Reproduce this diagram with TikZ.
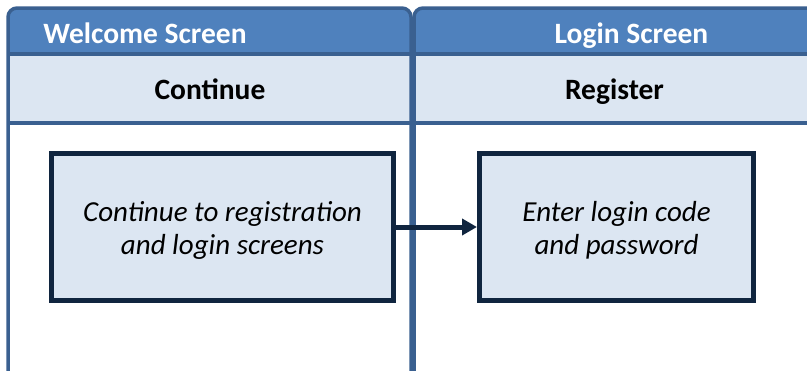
\documentclass[tikz,border=0pt]{standalone}
\usepackage{fontspec}
\setmainfont{Carlito}
\usetikzlibrary{arrows.meta}
\definecolor{hdrfill}{HTML}{4F81BD}
\definecolor{lanebd}{HTML}{3A6090}
\definecolor{subfill}{HTML}{DCE6F2}
\definecolor{navy}{HTML}{10253F}
\newcommand{\mytwolines}[2]{\raisebox{-3pt}[\height][\depth]{\vbox{\halign{\hfil##\hfil\cr #1\cr #2\cr}}}}
\tikzset{
  lane/.style={draw=lanebd, line width=3.5pt},
  hdrtext/.style={text=white, font=\fontsize{29.5}{34}\selectfont\bfseries, inner sep=0pt, anchor=base},
  subtext/.style={text=black, font=\fontsize{29.5}{34}\selectfont\bfseries, inner sep=0pt, anchor=base},
  stepbox/.style={draw=navy, fill=subfill, line width=5pt, minimum width=342pt, minimum height=147pt, inner sep=0pt,
     font=\fontsize{29}{33}\selectfont\itshape},
  flow/.style={draw=navy, line width=5pt, -{Triangle[length=15pt,width=16pt]}, shorten >=0pt},
}
\begin{document}
\begin{tikzpicture}[x=1pt,y=-1pt]
\useasboundingbox (0,0) rectangle (807,370);
% lane 1
\fill[white] (8,54) rectangle (411,400);
\fill[subfill] (8,54) rectangle (411,123);
\fill[hdrfill] (8,54) [rounded corners=9] -- (8,8) -- (411,8) [sharp corners] -- (411,54) -- cycle;
\draw[lane] (8,400) [rounded corners=9] -- (8,8) -- (411,8) [sharp corners] -- (411,400);
\draw[lane] (8,54) -- (411,54);
\draw[lane] (8,123) -- (411,123);
% lane 2
\fill[white] (414,54) rectangle (840,400);
\fill[subfill] (414,54) rectangle (840,123);
\fill[hdrfill] (414,54) [rounded corners=9] -- (414,8) -- (840,8) [sharp corners] -- (840,54) -- cycle;
\draw[lane] (414,400) [rounded corners=9] -- (414,8) -- (840,8) [sharp corners] -- (840,400);
\draw[lane] (414,54) -- (840,54);
\draw[lane] (414,123) -- (840,123);
% texts
\node[hdrtext] (h1) at (145,43) {Welcome Screen};
\node[hdrtext] (h2) at (631.5,43) {Login Screen};
\node[subtext] (s1) at (210,99) {Continue};
\node[subtext] (s2) at (614.5,99) {Register};
% boxes
\node[stepbox] (b1) at (222.5,227) {\mytwolines{Continue to registration}{and login screens}};
\node[stepbox, minimum width=274pt] (b2) at (616.5,227) {\mytwolines{Enter login code}{and password}};
\draw[flow] (b1.east) -- (b2.west);
\end{tikzpicture}
\end{document}
